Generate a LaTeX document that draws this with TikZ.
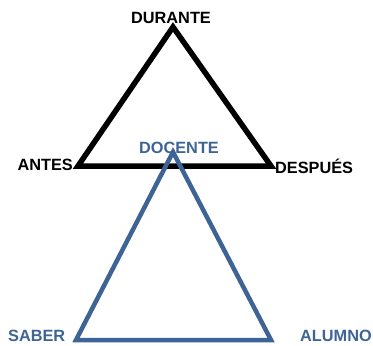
\documentclass[tikz,border=0pt]{standalone}
\usepackage{fontspec}
\setmainfont{Liberation Sans}
\definecolor{tblue}{HTML}{3D6494}
\begin{document}
\begin{tikzpicture}[x=1pt,y=-1pt,
  lbl/.style={font=\bfseries\fontsize{16.3}{17}\selectfont, inner sep=0pt},
  blacktri/.style={draw=black, line width=5.5pt, line join=miter},
  bluetri/.style={draw=tblue, line width=4.5pt, line join=miter}]
\useasboundingbox (0,0) rectangle (373,346);
\coordinate (bt) at (173,27);
\coordinate (bl) at (78,166);
\coordinate (br) at (271,166);
\coordinate (ut) at (173,152);
\coordinate (ul) at (76,340);
\coordinate (ur) at (271,340);
\draw[blacktri] (bt) -- (br) -- (bl) -- cycle;
\draw[bluetri] (ut) -- (ur) -- (ul) -- cycle;
\node[lbl] (durante) at (171,17.5) {DURANTE};
\node[lbl, anchor=east] (antes) at (73,165) {ANTES};
\node[lbl, anchor=west] (despues) at (275,166) {DESPUÉS};
\node[lbl, text=tblue] (docente) at (179,147.5) {DOCENTE};
\node[lbl, text=tblue, anchor=west] (saber) at (8,336) {SABER};
\node[lbl, text=tblue, anchor=west] (alumno) at (300,336) {ALUMNO};
\end{tikzpicture}
\end{document}
